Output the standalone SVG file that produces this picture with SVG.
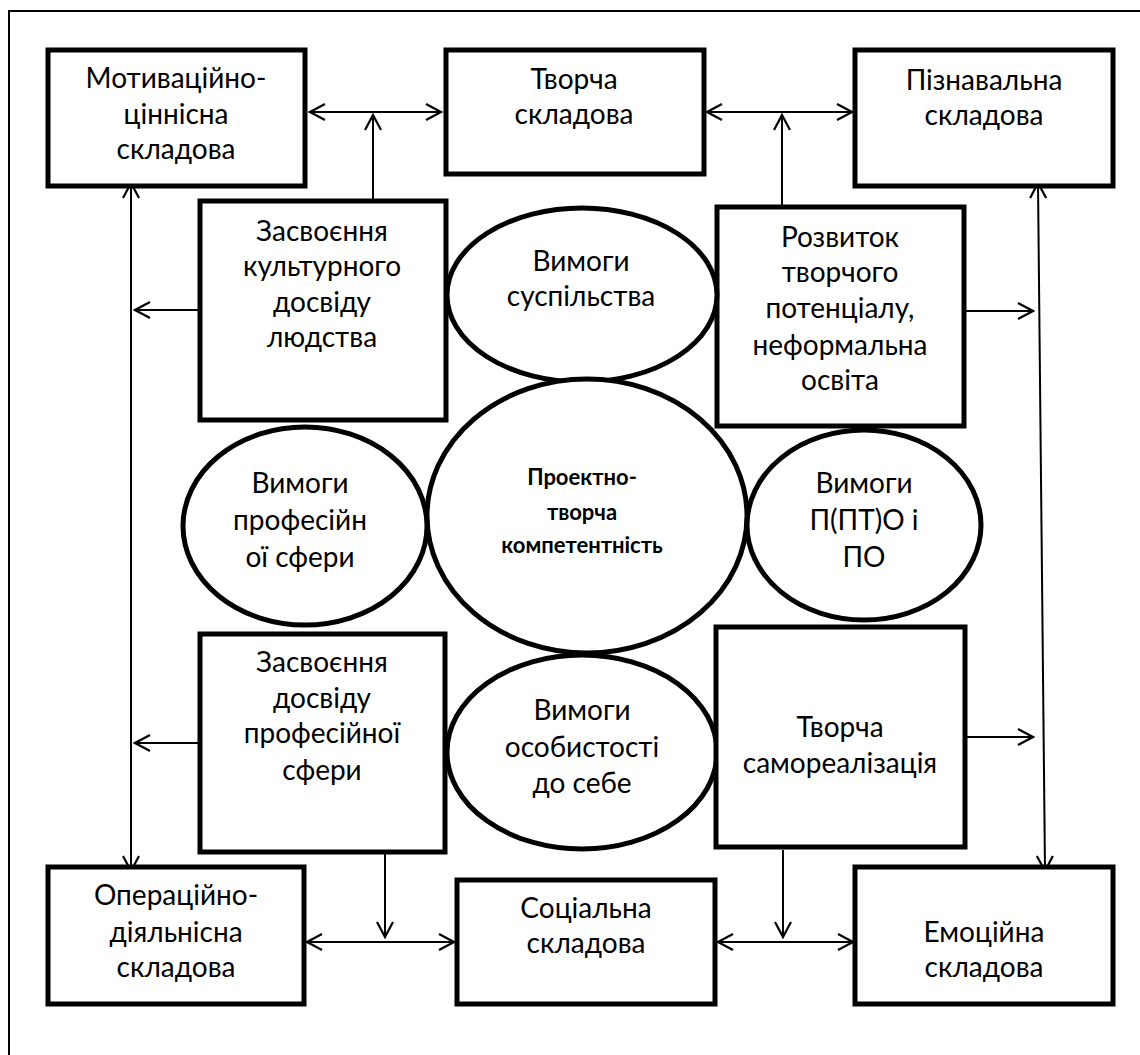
<svg xmlns="http://www.w3.org/2000/svg" width="1140" height="1055" viewBox="0 0 1140 1055">
<style>
.box{fill:#fff;stroke:#000;stroke-width:5}
.ell{fill:#fff;stroke:#000;stroke-width:5}
.t{font-family:Lato,"Open Sans","Noto Sans",sans-serif;font-size:28px;fill:#000;text-anchor:middle}
.b{font-weight:bold;font-size:22px}
.c{fill:none;stroke:#000;stroke-width:2}
</style>
<defs>
<marker id="arr" viewBox="-17 -10 19 20" refX="0" refY="0" markerWidth="19" markerHeight="20" markerUnits="userSpaceOnUse" orient="auto-start-reverse">
<path d="M-15,-8 L0,0 L-15,8" fill="none" stroke="#000" stroke-width="2.2"/>
</marker>
</defs>
<rect x="9" y="11" width="1140" height="1060" fill="#fff" stroke="#000" stroke-width="2"/>
<g id="connectors">
<line class="c" x1="310" y1="112" x2="441" y2="112" marker-start="url(#arr)" marker-end="url(#arr)"/>
<line class="c" x1="373" y1="199" x2="373" y2="115" marker-end="url(#arr)"/>
<line class="c" x1="707" y1="112" x2="852" y2="112" marker-start="url(#arr)" marker-end="url(#arr)"/>
<line class="c" x1="782" y1="205" x2="782" y2="115" marker-end="url(#arr)"/>
<line class="c" x1="131" y1="183" x2="131" y2="871" marker-start="url(#arr)" marker-end="url(#arr)"/>
<line class="c" x1="1038" y1="183" x2="1045" y2="871" marker-start="url(#arr)" marker-end="url(#arr)"/>
<line class="c" x1="199" y1="310" x2="135" y2="310" marker-end="url(#arr)"/>
<line class="c" x1="964" y1="311" x2="1033" y2="311" marker-end="url(#arr)"/>
<line class="c" x1="200" y1="743" x2="135" y2="743" marker-end="url(#arr)"/>
<line class="c" x1="965" y1="737" x2="1033" y2="737" marker-end="url(#arr)"/>
<line class="c" x1="307" y1="942" x2="454" y2="942" marker-start="url(#arr)" marker-end="url(#arr)"/>
<line class="c" x1="385" y1="852" x2="385" y2="937" marker-end="url(#arr)"/>
<line class="c" x1="718" y1="942" x2="853" y2="942" marker-start="url(#arr)" marker-end="url(#arr)"/>
<line class="c" x1="783" y1="850" x2="783" y2="937" marker-end="url(#arr)"/>
</g>
<g id="motyvatsiino">
<rect class="box" x="48" y="50" width="257" height="136"/>
<text class="t" x="176" y="88">Мотиваційно-</text>
<text class="t" x="176" y="124">ціннісна</text>
<text class="t" x="176" y="159">складова</text>
</g>
<g id="tvorcha-skladova">
<rect class="box" x="446" y="50" width="258" height="124"/>
<text class="t" x="574" y="89">Творча</text>
<text class="t" x="574" y="124">складова</text>
</g>
<g id="piznavalna">
<rect class="box" x="855" y="50" width="258" height="136"/>
<text class="t" x="984" y="90">Пізнавальна</text>
<text class="t" x="984" y="125">складова</text>
</g>
<g id="zasvoiennia-kult">
<rect class="box" x="200" y="201" width="246" height="219"/>
<text class="t" x="322" y="241">Засвоєння</text>
<text class="t" x="322" y="276">культурного</text>
<text class="t" x="322" y="312">досвіду</text>
<text class="t" x="322" y="347">людства</text>
</g>
<g id="rozvytok">
<rect class="box" x="717" y="207" width="247" height="219"/>
<text class="t" x="840" y="247">Розвиток</text>
<text class="t" x="840" y="282">творчого</text>
<text class="t" x="840" y="318">потенціалу,</text>
<text class="t" x="840" y="355">неформальна</text>
<text class="t" x="840" y="390">освіта</text>
</g>
<g id="vymogy-suspilstva">
<ellipse class="ell" cx="582" cy="295" rx="135" ry="87"/>
<text class="t" x="581" y="271">Вимоги</text>
<text class="t" x="581" y="306">суспільства</text>
</g>
<g id="kompetentnist">
<ellipse class="ell" cx="587" cy="516" rx="160" ry="137"/>
<text class="t b" x="582" y="485">Проектно-</text>
<text class="t b" x="582" y="520">творча</text>
<text class="t b" x="582" y="553">компетентність</text>
</g>
<g id="vymogy-prof">
<ellipse class="ell" cx="305" cy="526" rx="122" ry="99"/>
<text class="t" x="300" y="493">Вимоги</text>
<text class="t" x="300" y="530">професійн</text>
<text class="t" x="300" y="567">ої сфери</text>
</g>
<g id="vymogy-pto">
<ellipse class="ell" cx="864" cy="525" rx="117" ry="95"/>
<text class="t" x="864" y="493">Вимоги</text>
<text class="t" x="864" y="530">П(ПТ)О і</text>
<text class="t" x="864" y="567">ПО</text>
</g>
<g id="zasvoiennia-prof">
<rect class="box" x="200" y="634" width="245" height="218"/>
<text class="t" x="322" y="672">Засвоєння</text>
<text class="t" x="322" y="708">досвіду</text>
<text class="t" x="322" y="743">професійної</text>
<text class="t" x="322" y="780">сфери</text>
</g>
<g id="vymogy-osobystosti">
<ellipse class="ell" cx="582" cy="752" rx="135" ry="97"/>
<text class="t" x="582" y="720">Вимоги</text>
<text class="t" x="582" y="757">особистості</text>
<text class="t" x="582" y="793">до себе</text>
</g>
<g id="samorealizatsiia">
<rect class="box" x="716" y="627" width="249" height="220"/>
<text class="t" x="840" y="737">Творча</text>
<text class="t" x="840" y="773">самореалізація</text>
</g>
<g id="operatsiino">
<rect class="box" x="48" y="867" width="256" height="137"/>
<text class="t" x="176" y="905">Операційно-</text>
<text class="t" x="176" y="942">діяльнісна</text>
<text class="t" x="176" y="977">складова</text>
</g>
<g id="sotsialna">
<rect class="box" x="457" y="880" width="258" height="124"/>
<text class="t" x="586" y="918">Соціальна</text>
<text class="t" x="586" y="953">складова</text>
</g>
<g id="emotsiina">
<rect class="box" x="855" y="867" width="258" height="137"/>
<text class="t" x="984" y="942">Емоційна</text>
<text class="t" x="984" y="977">складова</text>
</g>
</svg>
